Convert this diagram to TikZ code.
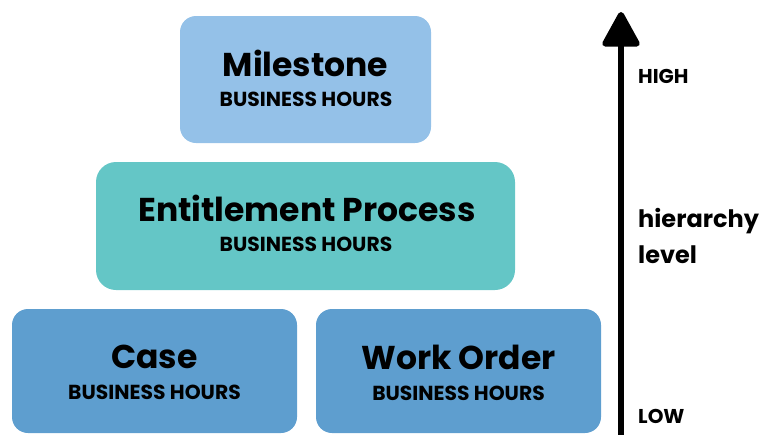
\documentclass[tikz,border=0pt]{standalone}
\usepackage{fontspec}
\setmainfont{Poppins}
\usetikzlibrary{arrows.meta}
\definecolor{mscol}{HTML}{94C1E8}
\definecolor{epcol}{HTML}{64C6C6}
\definecolor{lowcol}{HTML}{5E9ECF}
\tikzset{
  lvlbox/.style={rounded corners=16pt, draw=none},
  ttl/.style={font=\fontsize{33}{36}\selectfont\bfseries, anchor=base, inner sep=0pt},
  sub/.style={font=\fontsize{20.3}{22}\selectfont\bfseries, anchor=base, inner sep=0pt},
  side/.style={font=\fontsize{20}{22}\selectfont\bfseries, anchor=base west, inner sep=0pt},
  sidebig/.style={font=\fontsize{24}{26}\selectfont\bfseries, anchor=base west, inner sep=0pt},
}
\begin{document}
\begin{tikzpicture}[x=1pt,y=-1pt]
\useasboundingbox (0,0) rectangle (759,434);
\fill[mscol, lvlbox] (180,16) rectangle (431,143);
\fill[epcol, lvlbox, rounded corners=20pt] (96,162) rectangle (515,290);
\fill[lowcol, lvlbox] (12,309) rectangle (297,433);
\fill[lowcol, lvlbox] (316,309) rectangle (601,433);
\node[ttl] (ms) at (305.5,76) {Milestone};
\node[sub] (msb) at (306,106.5) {BUSINESS HOURS};
\node[ttl] (ep) at (307,221.5) {Entitlement Process};
\node[sub] (epb) at (306,251.5) {BUSINESS HOURS};
\node[ttl] (cs) at (154.5,368) {Case};
\node[sub] (csb) at (154.5,399) {BUSINESS HOURS};
\node[ttl] (wo) at (458.5,369) {Work Order};
\node[sub] (wob) at (458.5,400) {BUSINESS HOURS};
\coordinate (abot) at (621,440);
\coordinate (atop) at (621,12);
\draw[line width=6pt, -{Triangle[width=40pt,length=38pt,round]}] (abot) -- (atop);
\node[side] (hi) at (638,83) {HIGH};
\node[side] (lo) at (638,423) {LOW};
\node[sidebig] (hl1) at (638,227) {hierarchy};
\node[sidebig] (hl2) at (638,263) {level};
\end{tikzpicture}
\end{document}
